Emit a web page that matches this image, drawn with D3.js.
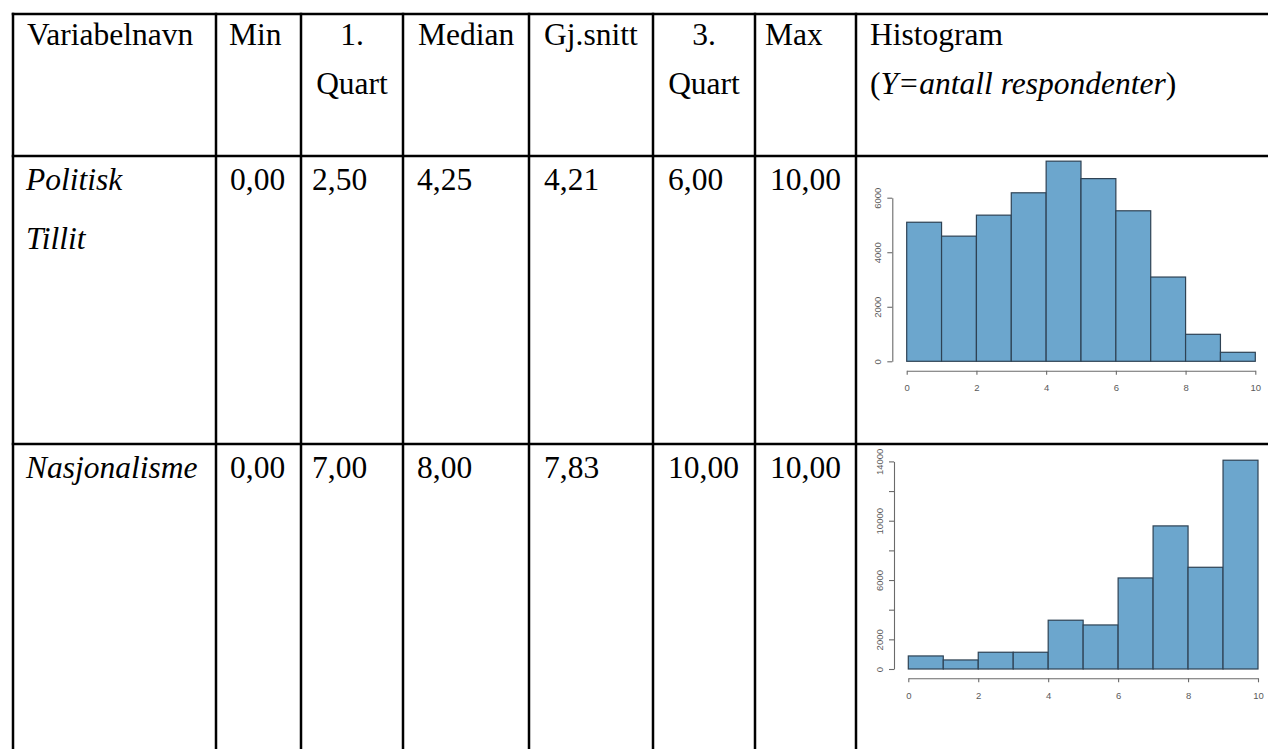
<!DOCTYPE html>
<html>
<head>
<meta charset="utf-8">
<script src="https://cdn.jsdelivr.net/npm/d3@7"></script>
<style>
  html, body { margin: 0; padding: 0; background: #fff; }
  svg { display: block; }
</style>
</head>
<body>
<svg id="chart" width="1268" height="749"></svg>
<script>
// ---------- data ----------
const headerLine1 = ["Variabelnavn", "Min", "1.", "Median", "Gj.snitt", "3.", "Max", "Histogram"];
const headerLine2 = ["", "", "Quart", "", "", "Quart", "", "(Y=antall respondenter)"];
const variableLine1 = ["Politisk", "Nasjonalisme"];
const variableLine2 = ["Tillit", ""];
const minValues = ["0,00", "0,00"];
const q1Values = ["2,50", "7,00"];
const medianValues = ["4,25", "8,00"];
const meanValues = ["4,21", "7,83"];
const q3Values = ["6,00", "10,00"];
const maxValues = ["10,00", "10,00"];

const binEdges = [0, 1, 2, 3, 4, 5, 6, 7, 8, 9, 10];
const tillitCounts = [5100, 4590, 5360, 6180, 7340, 6700, 5520, 3090, 990, 330];
const nasjCounts = [880, 610, 1130, 1130, 3290, 2970, 6140, 9650, 6860, 14080];
const xTickValues = [0, 2, 4, 6, 8, 10];
const tillitYTicks = [0, 2000, 4000, 6000];
const tillitYLabels = [0, 2000, 4000, 6000];
const nasjYTicks = [0, 2000, 4000, 6000, 8000, 10000, 12000, 14000];
const nasjYLabels = [0, 2000, 6000, 10000, 14000];

// ---------- layout ----------
const svg = d3.select("#chart");
const colX = [13, 216, 301, 403, 529, 653, 755, 856];
const rowY = [14, 156, 444];
const H = 749;
const serif = "'Liberation Serif', 'Times New Roman', Times, serif";
const fs = 31.5;

// table grid
const grid = svg.append("g").attr("stroke", "#000").attr("stroke-width", 2.5);
grid.selectAll("line.v").data(colX).join("line")
  .attr("x1", d => d).attr("x2", d => d).attr("y1", rowY[0] - 1.25).attr("y2", H);
grid.selectAll("line.h").data(rowY).join("line")
  .attr("x1", colX[0] - 1.25).attr("x2", 1268).attr("y1", d => d).attr("y2", d => d);

// text helpers
const textG = svg.append("g").attr("font-family", serif).attr("font-size", fs).attr("fill", "#000");
function put(x, y, str, opts = {}) {
  if (!str) return null;
  const t = textG.append("text").attr("x", x).attr("y", y).text(str);
  if (opts.italic) t.attr("font-style", "italic");
  if (opts.anchor) t.attr("text-anchor", opts.anchor);
  return t;
}

// header
const headX = [27, 229, 352, 418, 544, 704, 765, 870];
const headAnchor = ["start", "start", "middle", "start", "start", "middle", "start", "start"];
const headBase = [45, 94];
headerLine1.forEach((s, i) => put(headX[i], headBase[0], s, { anchor: headAnchor[i] }));
headerLine2.forEach((s, i) => {
  if (!s) return;
  if (i === 7) {
    const t = textG.append("text").attr("x", headX[i]).attr("y", headBase[1]);
    const inner = s.replace(/^\(|\)$/g, "");
    t.append("tspan").text("(");
    t.append("tspan").attr("font-style", "italic").text(inner);
    t.append("tspan").text(")");
  } else {
    put(headX[i], headBase[1], s, { anchor: headAnchor[i] });
  }
});

// body rows
const dataX = [26, 230, 312, 417, 544, 668, 770];
const rowBase = [190, 478];
const rowColumns = [minValues, q1Values, medianValues, meanValues, q3Values, maxValues];
variableLine1.forEach((name, r) => {
  put(dataX[0], rowBase[r], name, { italic: true });
  put(dataX[0], rowBase[r] + 59, variableLine2[r], { italic: true });
  rowColumns.forEach((col, c) => put(dataX[c + 1], rowBase[r], col[r]));
});

// ---------- histograms ----------
function histogram(cfg) {
  const g = svg.append("g");
  const x = d3.scaleLinear().domain([0, 10]).range(cfg.xRange);
  const y = d3.scaleLinear().domain([0, cfg.yTicks[cfg.yTicks.length - 1]]).range(cfg.yRange);
  g.selectAll("rect.bar").data(cfg.counts).join("rect")
    .attr("class", "bar")
    .attr("x", (d, i) => x(binEdges[i]))
    .attr("width", (d, i) => x(binEdges[i + 1]) - x(binEdges[i]))
    .attr("y", d => y(d))
    .attr("height", d => y(0) - y(d))
    .attr("fill", "#6ca6cd")
    .attr("stroke", "#2e4254")
    .attr("stroke-width", 1.2);

  const xa = g.append("g").attr("transform", `translate(0,${cfg.xAxisY})`)
    .call(d3.axisBottom(x).tickValues(xTickValues).tickSize(4).tickSizeOuter(0).tickPadding(10).tickFormat(d3.format("d")));
  const ya = g.append("g").attr("transform", `translate(${cfg.yAxisX},0)`)
    .call(d3.axisLeft(y).tickValues(cfg.yTicks).tickSize(5).tickSizeOuter(0)
      .tickFormat(d => cfg.yLabels.includes(d) ? String(d) : ""));
  [xa, ya].forEach(a => {
    a.select(".domain").attr("stroke", "#6a6a6a").attr("stroke-width", 1.1);
    a.selectAll(".tick line").attr("stroke", "#6a6a6a").attr("stroke-width", 1.1);
    a.selectAll(".tick text").attr("fill", "#5a5a5a")
      .attr("font-family", "'Liberation Sans', Arial, Helvetica, sans-serif")
      .attr("font-size", 9.5);
  });
  ya.selectAll(".tick text")
    .attr("x", null).attr("dy", null)
    .attr("text-anchor", "middle")
    .attr("transform", "translate(-11,0) rotate(-90)");
}

histogram({
  counts: tillitCounts,
  xRange: [906.7, 1255.3],
  yRange: [361.3, 197.7],
  yTicks: tillitYTicks, yLabels: tillitYLabels,
  xAxisY: 370.7, yAxisX: 892.3
});
histogram({
  counts: nasjCounts,
  xRange: [908.3, 1258],
  yRange: [669, 461.4],
  yTicks: nasjYTicks, yLabels: nasjYLabels,
  xAxisY: 678.3, yAxisX: 894
});
</script>
</body>
</html>
